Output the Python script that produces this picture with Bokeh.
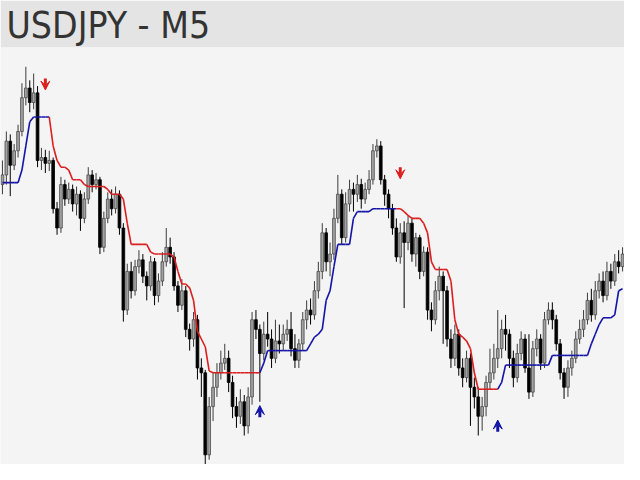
import numpy as np
from bokeh.plotting import figure
from bokeh.models import ColumnDataSource, Range1d, Arrow, VeeHead
from bokeh.embed import file_html
from bokeh.resources import INLINE

# ---- data (price in points) ----
opens = [290, 300, 335, 310, 325, 345, 380, 390, 375, 385,
         315, 318, 312, 315, 265, 245, 290, 275, 285, 270,
         280, 255, 275, 300, 290, 295, 225, 255, 275, 265,
         280, 245, 160, 200, 180, 205, 212, 195, 185, 210,
         175, 190, 210, 225, 215, 185, 165, 180, 140, 130,
         150, 100, 95, 10, 60, 80, 95, 105, 110, 85,
         60, 50, 65, 40, 70, 150, 140, 115, 135, 130,
         110, 128, 125, 135, 140, 120, 108, 125, 150, 160,
         155, 180, 200, 240, 210, 218, 255, 280, 235, 270,
         285, 280, 290, 275, 285, 295, 325, 330, 295, 280,
         265, 245, 215, 240, 230, 250, 218, 235, 200, 220,
         160, 150, 180, 195, 180, 130, 110, 135, 100, 90,
         110, 80, 70, 50, 60, 85, 95, 110, 120, 140,
         135, 110, 90, 115, 130, 100, 75, 120, 130, 105,
         150, 160, 150, 125, 95, 80, 100, 110, 130, 140,
         150, 170, 155, 180, 190, 175, 200, 190, 210, 205]
closes = [300, 335, 310, 325, 345, 380, 390, 375, 385, 315,
          318, 312, 315, 265, 245, 290, 275, 285, 270, 280,
          255, 275, 300, 290, 295, 225, 255, 275, 265, 280,
          245, 160, 200, 180, 205, 212, 195, 185, 210, 175,
          190, 210, 225, 215, 185, 165, 180, 140, 130, 150,
          100, 95, 10, 60, 80, 95, 105, 110, 85, 60,
          50, 65, 40, 70, 150, 140, 115, 135, 130, 110,
          128, 125, 135, 140, 120, 108, 125, 150, 160, 155,
          180, 200, 240, 210, 218, 255, 280, 235, 270, 285,
          280, 290, 275, 285, 295, 325, 330, 295, 280, 265,
          245, 215, 240, 230, 250, 218, 235, 200, 220, 160,
          150, 180, 195, 180, 130, 110, 135, 100, 90, 110,
          80, 70, 50, 60, 85, 95, 110, 120, 140, 135,
          110, 90, 115, 130, 100, 75, 120, 130, 105, 150,
          160, 150, 125, 95, 80, 100, 110, 130, 140, 150,
          170, 155, 180, 190, 175, 200, 190, 210, 205, 218]
highs = [315, 345, 342, 332, 352, 395, 412, 398, 405, 392,
         328, 326, 325, 318, 272, 298, 295, 292, 290, 288,
         284, 282, 308, 305, 302, 298, 262, 282, 285, 288,
         284, 250, 208, 210, 212, 222, 218, 200, 216, 214,
         198, 220, 245, 235, 220, 190, 192, 185, 146, 158,
         155, 110, 98, 70, 95, 105, 118, 125, 118, 92,
         70, 78, 72, 80, 158, 160, 145, 148, 158, 140,
         150, 145, 145, 150, 158, 135, 130, 158, 170, 172,
         190, 210, 250, 245, 230, 265, 300, 285, 282, 295,
         292, 300, 296, 292, 305, 332, 337, 335, 300, 285,
         270, 255, 250, 252, 258, 255, 240, 238, 226, 225,
         168, 190, 205, 200, 185, 140, 145, 140, 110, 118,
         115, 90, 80, 70, 92, 120, 125, 160, 150, 155,
         140, 118, 125, 138, 135, 135, 128, 140, 135, 158,
         168, 168, 155, 130, 100, 108, 118, 138, 150, 160,
         178, 182, 190, 198, 200, 210, 208, 218, 222, 225]
lows = [280, 290, 278, 305, 318, 340, 372, 365, 368, 308,
        305, 302, 304, 260, 238, 240, 268, 270, 262, 258,
        242, 250, 270, 282, 285, 218, 220, 250, 258, 260,
        238, 148, 155, 172, 175, 198, 188, 170, 180, 165,
        168, 185, 205, 208, 180, 158, 160, 132, 118, 122,
        88, 70, -5, 5, 45, 70, 88, 98, 75, 48,
        38, 42, 30, 32, 62, 130, 65, 108, 122, 100,
        105, 115, 118, 128, 112, 100, 100, 118, 140, 145,
        150, 172, 192, 200, 195, 212, 250, 228, 230, 262,
        262, 272, 265, 270, 280, 290, 318, 290, 268, 255,
        238, 210, 208, 162, 222, 210, 205, 192, 195, 150,
        138, 145, 170, 125, 122, 100, 102, 92, 80, 85,
        40, 58, 30, 35, 50, 78, 88, 100, 110, 118,
        100, 80, 85, 108, 95, 68, 70, 112, 98, 100,
        145, 140, 118, 88, 68, 70, 92, 105, 125, 132,
        145, 148, 150, 172, 168, 170, 182, 185, 198, 200]
# trailing stop level and trend direction (1 = up / blue, -1 = down / red)
trail = [292, 292, 292, 292, 292, 305, 330, 355, 360, 360,
         360, 360, 360, 330, 315, 308, 308, 305, 295, 295,
         295, 290, 288, 288, 288, 288, 288, 285, 280, 280,
         280, 275, 250, 228, 228, 228, 228, 228, 220, 218,
         218, 218, 218, 218, 215, 200, 187, 187, 183, 170,
         138, 130, 122, 97, 95, 95, 95, 95, 95, 95,
         95, 95, 95, 95, 95, 95, 95, 105, 118, 118,
         118, 118, 118, 118, 118, 118, 118, 118, 118, 125,
         132, 135, 140, 170, 180, 205, 228, 228, 228, 228,
         255, 262, 262, 262, 262, 265, 265, 265, 265, 265,
         265, 265, 265, 262, 258, 255, 255, 255, 250, 240,
         210, 202, 202, 202, 202, 190, 150, 135, 132, 128,
         120, 95, 78, 78, 78, 78, 78, 78, 85, 103,
         103, 103, 103, 103, 103, 103, 103, 103, 103, 103,
         103, 113, 113, 113, 113, 113, 113, 113, 113, 113,
         113, 125, 135, 145, 152, 152, 152, 155, 180, 182]
trend = [1] * 13 + [-1] * 54 + [1] * 35 + [-1] * 26 + [1] * 32
# signal arrows
arrow_idx = [11, 66, 102, 127]
arrow_level = [394, 55, 302, 40]
arrow_dir = [-1, 1, -1, 1]
title_text = "USDJPY - M5"

RED = "#dc1e1e"
BLUE = "#1414a8"

n = len(closes)
idx = np.arange(n)
o = np.array(opens, float)
c = np.array(closes, float)
up = c >= o

candles = ColumnDataSource(dict(
    x=idx, top=np.maximum(o, c), bottom=np.minimum(o, c),
    high=np.array(highs, float), low=np.array(lows, float),
    fill=np.where(up, "#a3a3a3", "#000000"),
    line=np.where(up, "#4a4a4a", "#000000"),
    wick=np.where(up, "#3c3c3c", "#000000"),
))

tr = np.array(trail, float)
td = np.array(trend)
seg = ColumnDataSource(dict(
    x0=idx[:-1], y0=tr[:-1], x1=idx[1:], y1=tr[1:],
    color=np.where(td[1:] > 0, BLUE, RED),
))

p = figure(width=624, height=464, output_backend="svg", toolbar_location=None,
           x_range=Range1d(-0.5, n - 0.5), y_range=Range1d(0, 432),
           x_axis_location=None, y_axis_location=None,
           min_border=0, title=title_text)
p.grid.visible = False
p.outline_line_color = None
p.background_fill_color = "#f4f4f4"
p.border_fill_color = "#e4e4e4"

p.title.text_font = "DejaVu Sans Condensed"
p.title.text_font_size = "37px"
p.title.text_font_style = "normal"
p.title.text_color = "#333333"
p.title.standoff = 2
p.title.offset = 6
p.title.align = "left"

p.segment("x", "low", "x", "high", source=candles, line_color="wick", line_width=1)
p.vbar(x="x", width=0.7, top="top", bottom="bottom", source=candles,
       fill_color="fill", line_color="line", line_width=0.8)
p.segment("x0", "y0", "x1", "y1", source=seg, line_color="color", line_width=1.6)

# signal arrows (stem length in price points)
half = 6
for d, col in ((-1, RED), (1, BLUE)):
    xs = [x for x, dd in zip(arrow_idx, arrow_dir) if dd == d]
    ys = [y for y, dd in zip(arrow_level, arrow_dir) if dd == d]
    src = ColumnDataSource(dict(
        x0=xs, x1=xs,
        y0=[y - d * half for y in ys], y1=[y + d * half for y in ys],
    ))
    p.add_layout(Arrow(x_start="x0", y_start="y0", x_end="x1", y_end="y1",
                       source=src, line_color=col, line_width=3,
                       end=VeeHead(size=9, line_color=col, fill_color=col,
                                   line_width=1)))

open("out.html", "w").write(file_html(p, INLINE))
